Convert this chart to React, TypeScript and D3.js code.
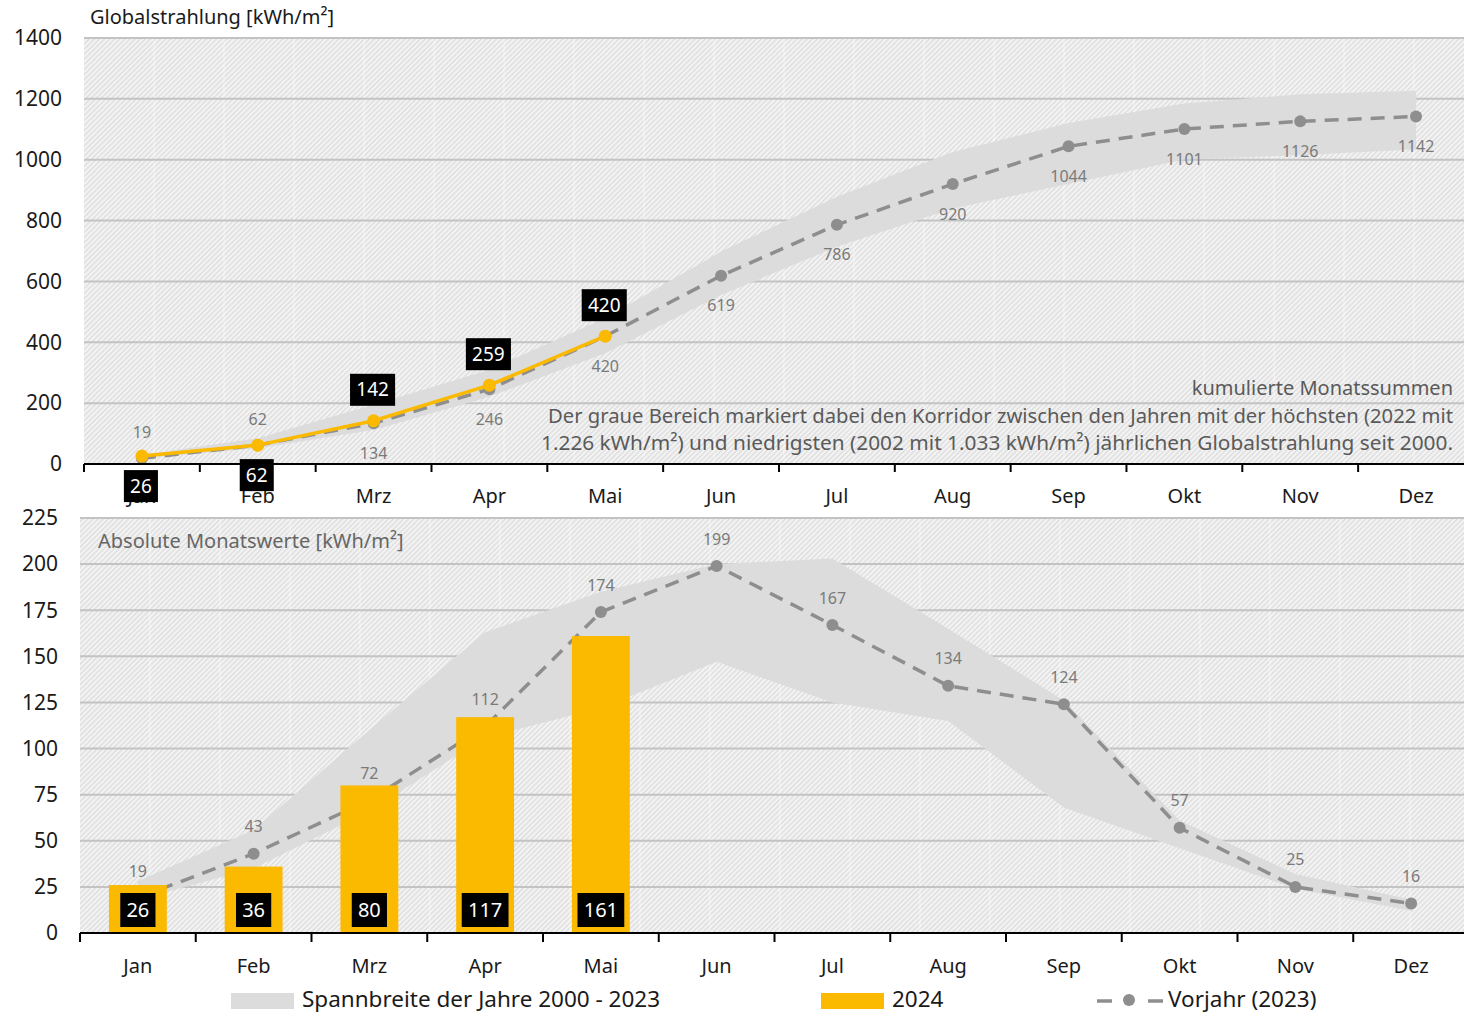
import React from 'react';
import * as d3 from 'd3';

const months = ['Jan', 'Feb', 'Mrz', 'Apr', 'Mai', 'Jun', 'Jul', 'Aug', 'Sep', 'Okt', 'Nov', 'Dez'];

// cumulative values (top chart)
const cumPrevYear = [19, 62, 134, 246, 420, 619, 786, 920, 1044, 1101, 1126, 1142];
const cum2024 = [26, 62, 142, 259, 420];
const cumBandUpper = [30, 85, 195, 310, 480, 698, 878, 1025, 1121, 1185, 1215, 1227];
const cumBandLower = [18, 52, 112, 221, 364, 555, 714, 840, 920, 1001, 1015, 1034];
const cumTicks = [0, 200, 400, 600, 800, 1000, 1200, 1400];

// monthly values (bottom chart)
const monthlyPrevYear = [19, 43, 72, 112, 174, 199, 167, 134, 124, 57, 25, 16];
const monthly2024 = [26, 36, 80, 117, 161];
const monthlyBandUpper = [28, 56, 110, 163, 185, 200, 203, 165, 126, 61, 32, 18];
const monthlyBandLower = [18, 35, 66, 106, 122, 147, 125, 115, 68, 46, 24, 12];
const monthlyTicks = [0, 25, 50, 75, 100, 125, 150, 175, 200, 225];

const W = 1464;
const H = 1015;
const FONT = "'Noto Sans', 'Open Sans', sans-serif";
const YELLOW = '#fbb900';
const GREY_LINE = '#8e8e8e';
const BAND = '#dcdcdc';
const GRID = '#c3c3c3';

function Background({ x0, x1, y0, y1, id }: { x0: number; x1: number; y0: number; y1: number; id: string }) {
  const vlines: number[] = [];
  for (let x = x0 + 70; x < x1; x += 70) vlines.push(x);
  return (
    <g>
      <rect x={x0} y={y0} width={x1 - x0} height={y1 - y0} fill={`url(#${id})`} />
      {vlines.map((x) => (
        <line key={x} x1={x} x2={x} y1={y0} y2={y1} stroke="#ffffff" strokeOpacity={0.55} strokeWidth={1} />
      ))}
    </g>
  );
}

function labelBox(cx: number, cy: number, text: string, fs: number, h: number, key: string) {
  const w = text.length * (fs * 0.58) + 12;
  return (
    <g key={key}>
      <rect x={cx - w / 2} y={cy - h / 2} width={w} height={h} fill="#000" />
      <text x={cx} y={cy} dy="0.35em" textAnchor="middle" fill="#fff" fontSize={fs} fontFamily={FONT}>
        {text}
      </text>
    </g>
  );
}

export default function App() {
  // ---------- top chart ----------
  const tLeft = 84;
  const tStep = 115.83;
  const xTop = d3.scaleBand<string>().domain(months).range([tLeft, tLeft + 12 * tStep]).padding(0);
  const cxTop = (m: string) => (xTop(m) as number) + xTop.bandwidth() / 2;
  const yTop = d3.scaleLinear().domain([0, 1400]).range([464, 38]);

  const topArea = d3
    .area<number>()
    .x((_, i) => cxTop(months[i]))
    .y0((_, i) => yTop(cumBandLower[i]))
    .y1((d) => yTop(d));
  const topLine = d3
    .line<number>()
    .x((_, i) => cxTop(months[i]))
    .y((d) => yTop(d));

  // ---------- bottom chart ----------
  const bLeft = 80;
  const bStep = 115.75;
  const xBot = d3
    .scaleBand<string>()
    .domain(months)
    .range([bLeft, bLeft + 12 * bStep])
    .paddingInner(0.5)
    .paddingOuter(0.25);
  const cxBot = (m: string) => (xBot(m) as number) + xBot.bandwidth() / 2;
  const yBot = d3.scaleLinear().domain([0, 225]).range([933, 518]);

  const botArea = d3
    .area<number>()
    .x((_, i) => cxBot(months[i]))
    .y0((_, i) => yBot(monthlyBandLower[i]))
    .y1((d) => yBot(d));
  const botLine = d3
    .line<number>()
    .x((_, i) => cxBot(months[i]))
    .y((d) => yBot(d));

  const boundaryTop = months.map((_, i) => tLeft + i * tStep);
  const boundaryBot = months.map((_, i) => bLeft + i * bStep);

  return (
    <svg
      width={W}
      height={H}
      viewBox={`0 0 ${W} ${H}`}
      style={{ position: 'absolute', left: 0, top: 0, display: 'block', background: '#fff' }}
    >
      <defs>
        <pattern id="hatch" width={3.6} height={3.6} patternUnits="userSpaceOnUse" patternTransform="rotate(45)">
          <rect width={3.6} height={3.6} fill="#f3f3f3" />
          <rect width={1.3} height={3.6} fill="#dcdcdc" />
        </pattern>
      </defs>

      {/* ================= TOP CHART ================= */}
      <Background x0={tLeft} x1={W} y0={yTop(1400)} y1={yTop(0)} id="hatch" />
      {cumTicks
        .filter((t) => t > 0)
        .map((t) => (
          <line key={t} x1={tLeft} x2={W} y1={yTop(t)} y2={yTop(t)} stroke={GRID} strokeWidth={2} />
        ))}
      {cumTicks.map((t) => (
        <text
          key={t}
          x={62}
          y={yTop(t)}
          dy="0.35em"
          textAnchor="end"
          fontSize={21}
          fontFamily={FONT}
          fill="#1a1a1a"
        >
          {t}
        </text>
      ))}
      <text x={90} y={17} dy="0.35em" fontSize={20} fontFamily={FONT} fill="#1a1a1a">
        Globalstrahlung [kWh/m²]
      </text>

      <path d={topArea(cumBandUpper) as string} fill={BAND} />

      {/* annotation texts */}
      <text x={1453} y={388} dy="0.35em" textAnchor="end" fontSize={20} fontFamily={FONT} fill="#5a5a5a">
        kumulierte Monatssummen
      </text>
      <text
        x={548}
        y={416}
        dy="0.35em"
        fontSize={20}
        fontFamily={FONT}
        fill="#5a5a5a"
        textLength={905}
        lengthAdjust="spacingAndGlyphs"
      >
        Der graue Bereich markiert dabei den Korridor zwischen den Jahren mit der höchsten (2022 mit
      </text>
      <text
        x={541}
        y={443}
        dy="0.35em"
        fontSize={20}
        fontFamily={FONT}
        fill="#5a5a5a"
        textLength={912}
        lengthAdjust="spacingAndGlyphs"
      >
        1.226 kWh/m²) und niedrigsten (2002 mit 1.033 kWh/m²) jährlichen Globalstrahlung seit 2000.
      </text>

      {/* previous year line */}
      <path
        d={topLine(cumPrevYear) as string}
        fill="none"
        stroke={GREY_LINE}
        strokeWidth={3.5}
        strokeDasharray="14 9"
      />
      {cumPrevYear.map((v, i) => (
        <circle key={i} cx={cxTop(months[i])} cy={yTop(v)} r={6} fill={GREY_LINE} />
      ))}
      {cumPrevYear.map((v, i) => (
        <text
          key={i}
          x={cxTop(months[i])}
          y={yTop(v) + (i < 2 ? -26 : 30)}
          dy="0.35em"
          textAnchor="middle"
          fontSize={16}
          fontFamily={FONT}
          fill="#7a7a7a"
        >
          {v}
        </text>
      ))}

      {/* axis */}
      <line x1={tLeft} x2={W} y1={yTop(0)} y2={yTop(0)} stroke="#000" strokeWidth={2} />
      {boundaryTop.map((x, i) => (
        <line key={i} x1={x} x2={x} y1={yTop(0)} y2={yTop(0) + 8} stroke="#000" strokeWidth={2} />
      ))}
      {months.map((m) => (
        <text key={m} x={cxTop(m)} y={496} dy="0.35em" textAnchor="middle" fontSize={20} fontFamily={FONT} fill="#1a1a1a">
          {m}
        </text>
      ))}

      {/* 2024 line */}
      <path d={topLine(cum2024) as string} fill="none" stroke={YELLOW} strokeWidth={3.5} />
      {cum2024.map((v, i) => (
        <circle key={i} cx={cxTop(months[i])} cy={yTop(v)} r={6.5} fill={YELLOW} />
      ))}
      {cum2024.map((v, i) =>
        labelBox(cxTop(months[i]) - 1, yTop(v) + (i < 2 ? 30 : -31), String(v), 19, 32, 'tl' + i)
      )}

      {/* ================= BOTTOM CHART ================= */}
      <Background x0={bLeft} x1={W} y0={yBot(225)} y1={yBot(0)} id="hatch" />
      {monthlyTicks
        .filter((t) => t > 0)
        .map((t) => (
          <line key={t} x1={bLeft} x2={W} y1={yBot(t)} y2={yBot(t)} stroke={GRID} strokeWidth={2} />
        ))}
      {monthlyTicks.map((t) => (
        <text
          key={t}
          x={58}
          y={yBot(t)}
          dy="0.35em"
          textAnchor="end"
          fontSize={21}
          fontFamily={FONT}
          fill="#1a1a1a"
        >
          {t}
        </text>
      ))}
      <text x={98} y={541} dy="0.35em" fontSize={20} fontFamily={FONT} fill="#666">
        Absolute Monatswerte [kWh/m²]
      </text>

      <path d={botArea(monthlyBandUpper) as string} fill={BAND} />
      <path
        d={botLine(monthlyPrevYear) as string}
        fill="none"
        stroke={GREY_LINE}
        strokeWidth={3.5}
        strokeDasharray="14 9"
      />
      {monthlyPrevYear.map((v, i) => (
        <circle key={i} cx={cxBot(months[i])} cy={yBot(v)} r={6} fill={GREY_LINE} />
      ))}
      {monthlyPrevYear.map((v, i) => (
        <text
          key={i}
          x={cxBot(months[i])}
          y={yBot(v) - 27}
          dy="0.35em"
          textAnchor="middle"
          fontSize={16}
          fontFamily={FONT}
          fill="#7a7a7a"
        >
          {v}
        </text>
      ))}

      {monthly2024.map((v, i) => (
        <rect
          key={i}
          x={xBot(months[i]) as number}
          y={yBot(v)}
          width={xBot.bandwidth()}
          height={yBot(0) - yBot(v)}
          fill={YELLOW}
        />
      ))}
      {monthly2024.map((v, i) => labelBox(cxBot(months[i]), yBot(0) - 23, String(v), 20, 34, 'bl' + i))}

      <line x1={bLeft} x2={W} y1={yBot(0)} y2={yBot(0)} stroke="#000" strokeWidth={2} />
      {boundaryBot.map((x, i) => (
        <line key={i} x1={x} x2={x} y1={yBot(0)} y2={yBot(0) + 9} stroke="#000" strokeWidth={2} />
      ))}
      {months.map((m) => (
        <text key={m} x={cxBot(m)} y={966} dy="0.35em" textAnchor="middle" fontSize={20} fontFamily={FONT} fill="#1a1a1a">
          {m}
        </text>
      ))}

      {/* ================= LEGEND ================= */}
      <rect x={231} y={993} width={63} height={16} fill={BAND} />
      <text x={302} y={999} dy="0.35em" fontSize={22.5} fontFamily={FONT} fill="#1a1a1a">
        Spannbreite der Jahre 2000 - 2023
      </text>
      <rect x={821} y={993} width={63} height={16} fill={YELLOW} />
      <text x={892} y={999} dy="0.35em" fontSize={22.5} fontFamily={FONT} fill="#1a1a1a">
        2024
      </text>
      <line x1={1097} x2={1112} y1={1001} y2={1001} stroke={GREY_LINE} strokeWidth={3.5} />
      <circle cx={1129} cy={1000} r={6} fill={GREY_LINE} />
      <line x1={1148} x2={1163} y1={1001} y2={1001} stroke={GREY_LINE} strokeWidth={3.5} />
      <text x={1168} y={999} dy="0.35em" fontSize={22.5} fontFamily={FONT} fill="#1a1a1a">
        Vorjahr (2023)
      </text>
    </svg>
  );
}
